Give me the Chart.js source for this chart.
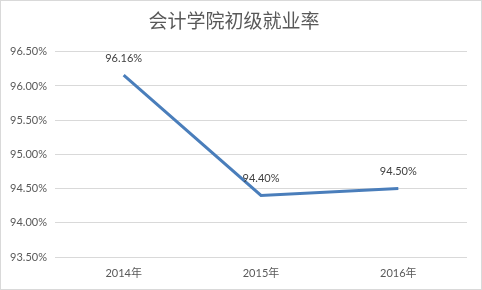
<!DOCTYPE html>
<html lang="zh">
  <head>
    <meta charset="UTF-8" />
    <title>会计学院初级就业率</title>
    <script src="https://cdn.jsdelivr.net/npm/chart.js@4/dist/chart.umd.min.js"></script>
    <style>
      html, body { margin: 0; padding: 0; background: #fff; }
      #box { width: 480px; height: 288px; border: 1px solid #d9d9d9; }
    </style>
  </head>
  <body>
    <div id="box"><canvas id="rate" width="480" height="288"></canvas></div>
    <script>
      // data
      var years = ['2014年', '2015年', '2016年'];
      var rates = [96.16, 94.40, 94.50];

      var yMin = 93.5, yMax = 96.5, yStep = 0.5;

      // value labels above each point
      var pointLabels = {
        id: 'pointLabels',
        afterDatasetsDraw: function (chart) {
          var ctx = chart.ctx;
          var meta = chart.getDatasetMeta(0);
          ctx.save();
          ctx.font = '11px Lato, "Liberation Sans", sans-serif';
          ctx.fillStyle = '#404040';
          ctx.textAlign = 'center';
          ctx.textBaseline = 'middle';
          meta.data.forEach(function (pt, i) {
            ctx.fillText(rates[i].toFixed(2) + '%', pt.x, pt.y - 17);
          });
          ctx.restore();
        }
      };

      var chart = new Chart(document.getElementById('rate'), {
        type: 'line',
        data: {
          labels: years,
          datasets: [{
            data: rates,
            borderColor: '#4a7ebb',
            borderWidth: 3,
            pointRadius: 0,
            tension: 0,
            fill: false
          }]
        },
        options: {
          responsive: false,
          animation: false,
          layout: { padding: { left: 0, right: 14, top: 0, bottom: 0 } },
          plugins: {
            legend: { display: false },
            tooltip: { enabled: false },
            title: {
              display: true,
              text: '会计学院初级就业率',
              color: '#595959',
              font: { family: '"Noto Sans CJK SC", sans-serif', size: 19, weight: 'normal' },
              padding: { top: 8, bottom: 20 }
            }
          },
          scales: {
            x: {
              offset: true,
              grid: { display: false, drawTicks: false },
              border: { display: false },
              ticks: {
                color: '#595959',
                padding: 10,
                font: { family: 'Lato, "Noto Sans CJK SC", sans-serif', size: 11 }
              },
              afterFit: function (s) { s.height = 32; }
            },
            y: {
              min: yMin,
              max: yMax,
              grid: { color: '#d9d9d9', drawTicks: false },
              border: { display: false },
              ticks: {
                stepSize: yStep,
                color: '#595959',
                padding: 8,
                font: { family: 'Lato, sans-serif', size: 11 },
                callback: function (v) { return v.toFixed(2) + '%'; }
              },
              afterFit: function (s) { s.width = 54; }
            }
          }
        },
        plugins: [pointLabels]
      });
    </script>
  </body>
</html>
